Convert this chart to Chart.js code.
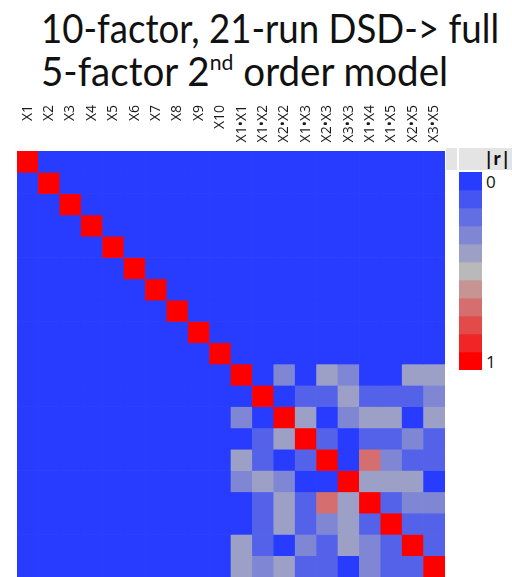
<!DOCTYPE html>
<html>
<head>
<meta charset="utf-8">
<script src="https://cdn.jsdelivr.net/npm/chart.js@4"></script>
<style>
  body { margin: 0; background: #fff; }
  #wrap { position: relative; width: 512px; height: 577px; overflow: hidden; }
  .title { position: absolute; left: 41px; font-family: "Lato", sans-serif; font-size: 40px; color: #111; white-space: nowrap; line-height: 1; transform-origin: 0 0; }
  .title sup { font-size: 22px; vertical-align: 16px; line-height: 0; }
  .band { position: absolute; top: 148px; height: 22px; background: #e4e4e4; }
  .lab { position: absolute; font-family: "Open Sans", sans-serif; font-size: 17px; color: #111; line-height: 1; }
  canvas { position: absolute; }
</style>
</head>
<body>
<div id="wrap">
  <div class="title" style="top:8px; transform:scaleX(0.916)">10-factor, 21-run DSD-&gt; full</div>
  <div class="title" style="top:51px; transform:scaleX(0.964)">5-factor 2<sup>nd</sup> order model</div>
  <div class="band" style="left:446px; width:11px"></div>
  <div class="band" style="left:459px; width:53px"></div>
  <div class="lab" style="left:484px; top:150px; font-weight:bold">|r|</div>
  <div class="lab" style="left:486px; top:173px">0</div>
  <div class="lab" style="left:486px; top:353px">1</div>
  <canvas id="canvas" width="512" height="577" style="left:0; top:0"></canvas>
  <canvas id="scale" width="23" height="198" style="left:459px; top:172px"></canvas>
</div>
<script>
// terms of the model
var terms = ["X1","X2","X3","X4","X5","X6","X7","X8","X9","X10",
  "X1•X1","X1•X2","X2•X2","X1•X3","X2•X3","X3•X3","X1•X4","X1•X5","X2•X5","X3•X5"];

// |r| between terms, one row per term
var corr = [
  [1,0,0,0,0,0,0,0,0,0, 0,0,0,0,0,0,0,0,0,0],
  [0,1,0,0,0,0,0,0,0,0, 0,0,0,0,0,0,0,0,0,0],
  [0,0,1,0,0,0,0,0,0,0, 0,0,0,0,0,0,0,0,0,0],
  [0,0,0,1,0,0,0,0,0,0, 0,0,0,0,0,0,0,0,0,0],
  [0,0,0,0,1,0,0,0,0,0, 0,0,0,0,0,0,0,0,0,0],
  [0,0,0,0,0,1,0,0,0,0, 0,0,0,0,0,0,0,0,0,0],
  [0,0,0,0,0,0,1,0,0,0, 0,0,0,0,0,0,0,0,0,0],
  [0,0,0,0,0,0,0,1,0,0, 0,0,0,0,0,0,0,0,0,0],
  [0,0,0,0,0,0,0,0,1,0, 0,0,0,0,0,0,0,0,0,0],
  [0,0,0,0,0,0,0,0,0,1, 0,0,0,0,0,0,0,0,0,0],
  [0,0,0,0,0,0,0,0,0,0, 1,0,0.3,0,0.4,0.3,0,0,0.4,0.4],
  [0,0,0,0,0,0,0,0,0,0, 0,1,0,0.15,0.15,0.4,0.15,0.15,0.15,0.3],
  [0,0,0,0,0,0,0,0,0,0, 0.3,0,1,0.4,0,0.3,0.4,0.4,0,0.4],
  [0,0,0,0,0,0,0,0,0,0, 0,0.15,0.4,1,0.15,0,0.15,0.15,0.3,0.15],
  [0,0,0,0,0,0,0,0,0,0, 0.4,0.15,0,0.15,1,0,0.7,0.3,0.15,0.15],
  [0,0,0,0,0,0,0,0,0,0, 0.3,0.4,0.3,0,0,1,0.4,0.4,0.4,0],
  [0,0,0,0,0,0,0,0,0,0, 0,0.15,0.4,0.15,0.7,0.4,1,0.15,0.3,0.3],
  [0,0,0,0,0,0,0,0,0,0, 0,0.15,0.4,0.15,0.3,0.4,0.15,1,0.15,0.15],
  [0,0,0,0,0,0,0,0,0,0, 0.4,0.15,0,0.3,0.15,0.4,0.3,0.15,1,0.15],
  [0,0,0,0,0,0,0,0,0,0, 0.4,0.3,0.4,0.15,0.15,0,0.3,0.15,0.15,1]
];

// colour bar steps
var legendSteps = [0,0.1,0.2,0.3,0.4,0.5,0.6,0.7,0.8,0.9,1];

function colorFor(v){
  var lo = [40,60,255], mid = [185,185,185], hi = [255,0,0];
  var a, b, t;
  if (v <= 0.5) { a = lo; b = mid; t = v / 0.5; }
  else { a = mid; b = hi; t = (v - 0.5) / 0.5; }
  var c = a.map(function(x, i){ return Math.round(x + (b[i] - x) * t); });
  return 'rgb(' + c.join(',') + ')';
}

// one stacked dataset per row, each cell one unit tall
var rows = corr.map(function(row, i){
  return {
    label: terms[i],
    data: row.map(function(){ return 1; }),
    backgroundColor: row.map(colorFor),
    borderWidth: 0,
    categoryPercentage: 1,
    barPercentage: 1
  };
});

var topLabels = {
  id: 'topLabels',
  afterDraw: function(chart){
    var ctx = chart.ctx, xs = chart.scales.x;
    ctx.save();
    ctx.font = '14px "Open Sans", sans-serif';
    ctx.fillStyle = '#1a1a1a';
    ctx.textAlign = 'right';
    ctx.textBaseline = 'middle';
    terms.forEach(function(t, i){
      ctx.save();
      ctx.translate(xs.getPixelForValue(i), 105);
      ctx.rotate(-Math.PI / 2);
      ctx.fillText(t, 0, 0);
      ctx.restore();
    });
    ctx.restore();
  }
};

new Chart(document.getElementById('canvas').getContext('2d'), {
  type: 'bar',
  data: { labels: terms, datasets: rows },
  options: {
    responsive: false,
    animation: false,
    layout: { padding: { left: 17, right: 67, top: 151, bottom: 0 } },
    plugins: { legend: { display: false }, tooltip: { enabled: false } },
    scales: {
      x: { display: false, stacked: true },
      y: { display: false, stacked: true, min: 0, max: 20, reverse: true }
    }
  },
  plugins: [topLabels]
});

new Chart(document.getElementById('scale').getContext('2d'), {
  type: 'bar',
  data: {
    labels: ['|r|'],
    datasets: legendSteps.map(function(s){
      return { data: [1], backgroundColor: colorFor(s), borderWidth: 0, categoryPercentage: 1, barPercentage: 1 };
    })
  },
  options: {
    responsive: false,
    animation: false,
    layout: { padding: 0 },
    plugins: { legend: { display: false }, tooltip: { enabled: false } },
    scales: {
      x: { display: false, stacked: true },
      y: { display: false, stacked: true, min: 0, max: legendSteps.length, reverse: true }
    }
  }
});
</script>
</body>
</html>
